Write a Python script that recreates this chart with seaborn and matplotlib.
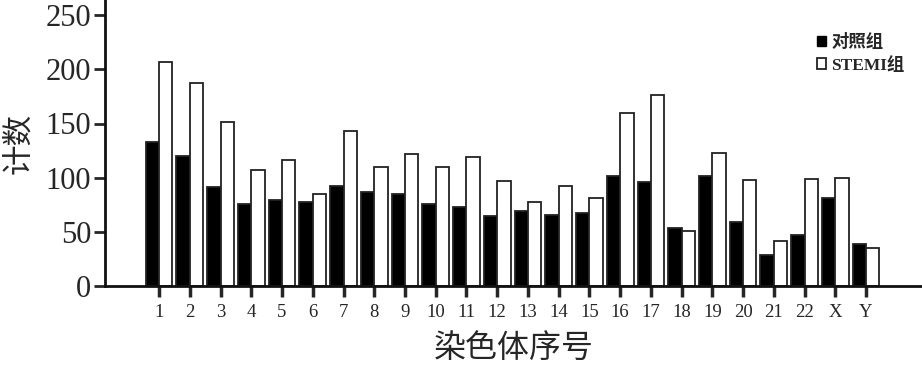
import matplotlib
matplotlib.use("Agg")
import matplotlib.pyplot as plt
import seaborn as sns
import pandas as pd
from matplotlib.patches import Patch

categories = [str(i) for i in range(1, 23)] + ["X", "Y"]
control = [133, 120, 91, 76, 79, 78, 92, 87, 85, 76, 73, 65, 69, 66, 67, 102,
           96, 54, 102, 59, 29, 47, 81, 39]
stemi = [207, 187, 151, 107, 116, 85, 143, 110, 122, 110, 119, 97, 78, 92, 81, 160,
         176, 51, 123, 98, 42, 99, 100, 35]
series_names = ["对照组", "STEMI组"]
y_ticks = [0, 50, 100, 150, 200, 250]

df = pd.DataFrame({
    "chrom": categories * 2,
    "group": [series_names[0]] * len(categories) + [series_names[1]] * len(categories),
    "count": control + stemi,
})

sns.set_style("ticks")
plt.rcParams["font.family"] = ["Liberation Serif", "Noto Sans CJK SC", "DejaVu Sans"]

fig = plt.figure(figsize=(9.22, 3.66), dpi=100)
ax = fig.add_axes([105 / 922, 1 - 286 / 366, 817 / 922, 286 / 366])

palette = {series_names[0]: "black", series_names[1]: "white"}
sns.barplot(data=df, x="chrom", y="count", hue="group", order=categories,
            hue_order=series_names, palette=palette, width=0.87,
            edgecolor="#222222", linewidth=1.3, ax=ax, legend=False)

ax.set_xlim(-1.76, len(categories) - 1 + 1.82)
ax.set_ylim(0, 264)
ax.set_yticks(y_ticks)
sns.despine(ax=ax)
for s in ("left", "bottom"):
    ax.spines[s].set_linewidth(2)
    ax.spines[s].set_color("#111111")

ax.tick_params(axis="y", direction="out", length=8, width=2, pad=2, labelsize=22)
ax.tick_params(axis="x", direction="out", length=8, width=2.5, pad=5, labelsize=13.5)

ax.set_xlabel("染色体序号", fontsize=23, family=["Noto Sans CJK SC"], labelpad=8)
ax.set_ylabel("计数", fontsize=22, family=["Noto Sans CJK SC"], labelpad=8)

handles = [Patch(facecolor="black", edgecolor="black", label=series_names[0]),
           Patch(facecolor="white", edgecolor="#222222", linewidth=1.3, label=series_names[1])]
leg = ax.legend(handles=handles, loc="upper left", bbox_to_anchor=(0.871, 0.88),
                frameon=False, handlelength=0.55, handleheight=0.55,
                handletextpad=0.3, labelspacing=0.32, borderpad=0, borderaxespad=0,
                prop={"family": ["Liberation Serif", "Noto Sans CJK SC"], "size": 12.5, "weight": "bold"})

fig.savefig("out.png", dpi=100)
